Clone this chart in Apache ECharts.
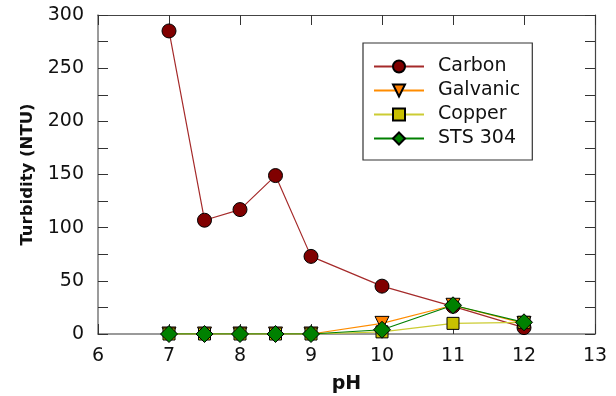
<!DOCTYPE html>
<html>
<head>
<meta charset="utf-8">
<script src="https://cdn.jsdelivr.net/npm/echarts@6/dist/echarts.min.js"></script>
<style>
  html, body { margin: 0; padding: 0; background: #fff; }
  #chart { width: 616px; height: 396px; }
</style>
</head>
<body>
<div id="chart"></div>
<script>
const ph = [7, 7.5, 8, 8.5, 9, 10, 11, 12]
const carbon = [285, 107, 117, 149, 73, 45, 26, 6]
const galvanic = [0, 0, 0, 0, 0, 10, 27, 10]
const copper = [0, 0, 0, 0, 0, 2, 10, 11]
const sts304 = [0, 0, 0, 0, 0, 4, 27, 11]

const font = "DejaVu Sans, Verdana, sans-serif"
const pairs = (ys) => ph.map((x, i) => [x, ys[i]])

const chart = echarts.init(document.getElementById("chart"))

const baseX = {
  type: "value", min: 6, max: 13, interval: 1,
  axisLine: { show: true, onZero: false, lineStyle: { color: "#7a7a7a", width: 1.5 } },
  axisTick: { inside: true, length: 10, lineStyle: { color: "#333" } },
  splitLine: { show: false },
}
const baseY = {
  type: "value", min: 0, max: 300, interval: 50,
  axisLine: { show: true, onZero: false, lineStyle: { color: "#7a7a7a", width: 1.5 } },
  axisTick: { inside: true, length: 10, lineStyle: { color: "#333" } },
  minorTick: { show: true, splitNumber: 2, length: 10, lineStyle: { color: "#333" } },
  splitLine: { show: false },
}

function line(name, ys, symbol, size, lineColor, fill, extra) {
  return Object.assign({
    name, type: "line", data: pairs(ys),
    symbol, symbolSize: size,
    lineStyle: { color: lineColor, width: 1.2 },
    itemStyle: { color: fill, borderColor: "#000", borderWidth: 1 },
    emphasis: { disabled: true },
  }, extra || {})
}

chart.setOption({
  animation: false,
  grid: { left: 98, right: 21, top: 15, bottom: 62, outerBoundsMode: "none" },
  legend: {
    orient: "vertical", left: 363, top: 43,
    padding: [14, 12, 12, 10],
    itemGap: 5, itemWidth: 50, itemHeight: 15,
    borderColor: "#333", borderWidth: 1.2,
    textStyle: { fontFamily: font, fontSize: 19, color: "#111", lineHeight: 14, padding: [0, 0, 0, 9] },
    data: ["Carbon", "Galvanic", "Copper", "STS 304"],
  },
  xAxis: [
    Object.assign({}, baseX, {
      name: "pH", nameLocation: "middle", nameGap: 41,
      nameTextStyle: { fontFamily: font, fontSize: 19, fontWeight: "bold", color: "#111" },
      axisLabel: { fontFamily: font, fontSize: 19, color: "#111", margin: 13 },
    }),
    Object.assign({}, baseX, { position: "top", axisLine: { show: true, onZero: false, lineStyle: { color: "#444", width: 1.2 } }, axisLabel: { show: false } }),
  ],
  yAxis: [
    Object.assign({}, baseY, {
      name: "Turbidity (NTU)", nameLocation: "middle", nameGap: 62,
      nameTextStyle: { fontFamily: font, fontSize: 16.5, fontWeight: "bold", color: "#111" },
      axisLabel: { fontFamily: font, fontSize: 19, color: "#111", margin: 14 },
    }),
    Object.assign({}, baseY, { position: "right", axisLine: { show: true, onZero: false, lineStyle: { color: "#444", width: 1.2 } }, axisLabel: { show: false } }),
  ],
  series: [
    line("Carbon", carbon, "circle", 14, "#a52a2a", "#800000", { z: 2 }),
    line("Galvanic", galvanic, "triangle", 14, "#ff8c00", "#ff8000", { symbolRotate: 180, z: 3 }),
    line("Copper", copper, "rect", 12, "#cccc33", "#c8c000", { z: 4 }),
    line("STS 304", sts304, "diamond", 17, "#008000", "#008000", { z: 5 }),
  ],
})

window.addEventListener("resize", () => chart.resize())
</script>
</body>
</html>
